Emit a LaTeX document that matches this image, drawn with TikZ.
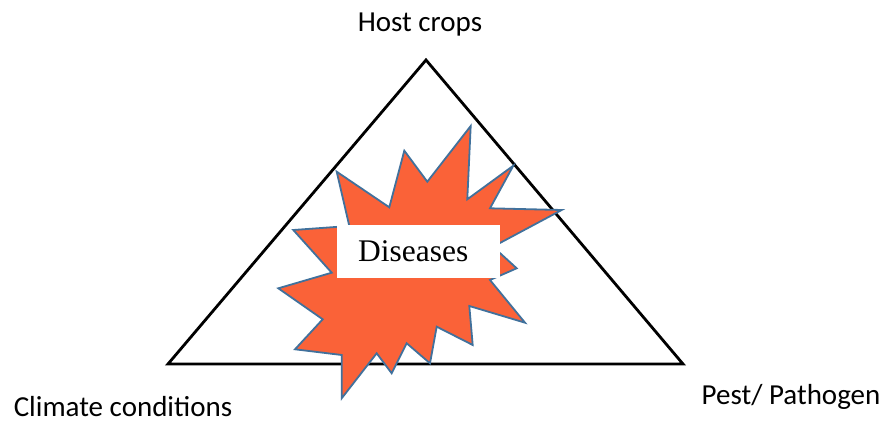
\documentclass[tikz,border=0pt]{standalone}
\usepackage{fontspec}
\setmainfont{Liberation Serif}
\newfontfamily\calibri{Carlito}
\usetikzlibrary{positioning}
\definecolor{burstred}{RGB}{250,98,56}
\definecolor{burstblue}{RGB}{65,113,156}
\tikzset{
  factor/.style={font=\calibri\fontsize{29}{34}\selectfont,anchor=base,inner sep=0pt},
  side/.style={line width=2.8pt,line join=miter},
  burst/.style={fill=burstred,draw=burstblue,line width=1.8pt,line join=miter},
  dbox/.style={fill=white,minimum width=163pt,minimum height=53pt,inner sep=0pt,
    font=\fontsize{31.5}{36}\selectfont}
}
\begin{document}
\begin{tikzpicture}[x=1pt,y=-1pt]
  \useasboundingbox (0,0) rectangle (889,427);
  % disease triangle
  \coordinate (top) at (426,60);
  \coordinate (bl) at (168,364);
  \coordinate (br) at (683,364);
  \draw[side] (top) -- (bl) -- (br) -- cycle;
  \node[factor] (host) at (420,32) {Host crops};
  \node[factor] (climate) at (123,417) {Climate conditions};
  \node[factor] (pest) at (791,405) {Pest/ Pathogen};
  % explosion shape
  \draw[burst] (336.7,171.7) -- (389.3,207.3) -- (404.3,150.7) -- (427.3,181.7)
    -- (470.7,126) -- (467.3,199.3) -- (513.3,165.7) -- (490,208.3)
    -- (561.7,210) -- (493,246.7) -- (516.7,268.3) -- (490,280)
    -- (525,322.7) -- (469.3,306) -- (472.7,345) -- (436.7,326.7)
    -- (430,363.3) -- (406.7,343.3) -- (391.7,373.3) -- (376.7,353.3)
    -- (341.7,398.3) -- (341.7,355) -- (295,349.3) -- (322.7,319.3)
    -- (278.3,288.3) -- (331.7,272.7) -- (293.3,230) -- (349.3,226) -- cycle;
  \node[dbox] (dis) at (418.3,251.3) {\hspace*{-10pt}Diseases};
\end{tikzpicture}
\end{document}
